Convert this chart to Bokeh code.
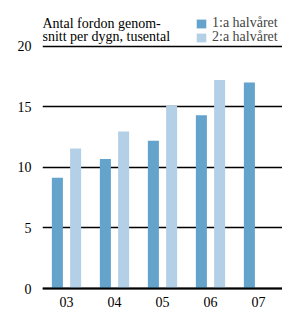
from bokeh.plotting import figure
from bokeh.models import FixedTicker, Label, Legend, LegendItem, Range1d, Span
from bokeh.embed import file_html
from bokeh.resources import INLINE

years = ["03", "04", "05", "06", "07"]
h1 = [9.15, 10.7, 12.2, 14.3, 17.0]
h2 = [11.55, 12.95, 15.1, 17.2]
y_ticks = [0, 5, 10, 15, 20]
title_lines = ["Antal fordon genom-", "snitt per dygn, tusental"]
series = ["1:a halvåret", "2:a halvåret"]

FONT = "Liberation Serif"
C1 = "#63a3cc"
C2 = "#b3d0e6"

xs = list(range(len(years)))
x1 = [x - 0.19 for x in xs]
x2 = [x + 0.19 for x in xs[:len(h2)]]

p = figure(width=282, height=309, output_backend="svg", toolbar_location=None,
           x_range=Range1d(-0.5, 4.5), y_range=Range1d(-1.73, 23.77),
           min_border_left=42, min_border_right=0, min_border_top=0, min_border_bottom=0)
p.outline_line_color = None
p.background_fill_color = "white"

r1 = p.vbar(x=x1, top=h1, width=0.23, color=C1, line_color=None)
r2 = p.vbar(x=x2, top=h2, width=0.23, color=C2, line_color=None)

p.xgrid.visible = False
p.xaxis.visible = False
p.ygrid.ticker = FixedTicker(ticks=y_ticks)
p.ygrid.grid_line_color = "black"
p.ygrid.grid_line_width = 1.3
p.add_layout(Span(location=0, dimension="width", line_color="black", line_width=2))

p.yaxis.ticker = FixedTicker(ticks=y_ticks)
p.yaxis.axis_line_color = None
p.yaxis.major_tick_line_color = None
p.yaxis.minor_tick_line_color = None
p.yaxis.major_label_standoff = 5
p.yaxis.major_label_text_font = FONT
p.yaxis.major_label_text_font_size = "14px"
p.yaxis.major_label_text_color = "black"

p.text(x=xs, y=[0] * len(xs), text=years, text_font={"value": FONT}, text_font_size="14px",
       text_color="black", text_align="center", text_baseline="alphabetic", y_offset=13)

for i, t in enumerate(title_lines):
    p.add_layout(Label(x=0, y=286 - i * 13, x_units="screen", y_units="screen", text=t,
                       text_font=FONT, text_font_size="14px", text_color="black",
                       text_baseline="alphabetic"))

for i, (lab, r) in enumerate(zip(series, [r1, r2])):
    lg = Legend(items=[LegendItem(label=lab, renderers=[r])],
                location=(153, 278 - i * 14), orientation="vertical",
                background_fill_alpha=0, border_line_color=None,
                label_text_font=FONT, label_text_font_size="14px",
                glyph_width=12, glyph_height=11, label_height=11,
                spacing=0, padding=0, margin=0, label_standoff=5)
    p.add_layout(lg, "center")

open("out.html", "w").write(file_html(p, INLINE))
